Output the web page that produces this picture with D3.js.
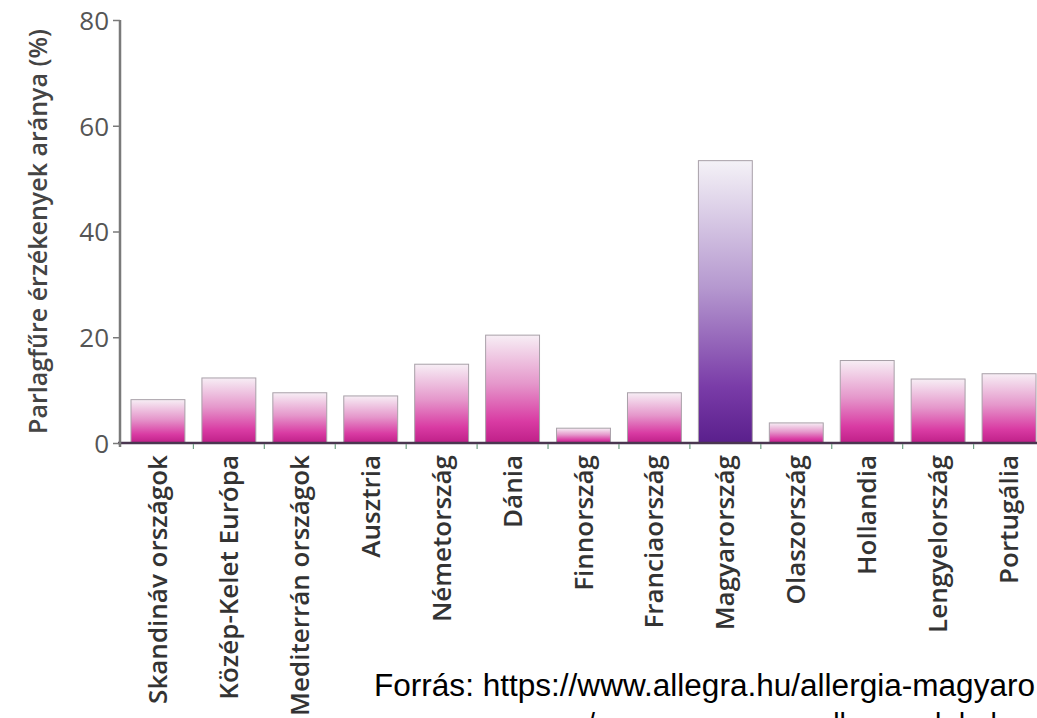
<!DOCTYPE html>
<html>
<head>
<meta charset="utf-8">
<script src="https://cdn.jsdelivr.net/npm/d3@7"></script>
<style>
  body { margin: 0; background: #fff; }
  svg { display: block; }
</style>
</head>
<body>
<svg width="1037" height="718"></svg>
<script>
var countries = ["Skandináv országok", "Közép-Kelet Európa", "Mediterrán országok", "Ausztria",
    "Németország", "Dánia", "Finnország", "Franciaország", "Magyarország", "Olaszország",
    "Hollandia", "Lengyelország", "Portugália"];
var values = [8.2, 12.3, 9.5, 8.9, 14.9, 20.4, 2.8, 9.5, 53.4, 3.8, 15.6, 12.1, 13.1];
var yTicks = [0, 20, 40, 60, 80];
var highlight = "Magyarország";
var yTitle = "Parlagfűre érzékenyek aránya (%)";
var source = ["Forrás: https://www.allegra.hu/allergia-magyaro",
              "magyarorszagon/magyarorszagon-allergenek-helyzete"];

var svg = d3.select("svg");
var data = countries.map(function(c, i) { return {name: c, value: values[i]}; });

var x = d3.scaleBand().domain(countries).range([120, 1047]).paddingInner(0.24).paddingOuter(0.155);
var y = d3.scaleLinear().domain([0, 80]).range([443, 20]);

// gradients
var defs = svg.append("defs");
function grad(id, stops) {
    var g = defs.append("linearGradient").attr("id", id)
        .attr("x1", 0).attr("y1", 0).attr("x2", 0).attr("y2", 1);
    stops.forEach(function(s) {
        g.append("stop").attr("offset", s[0]).attr("stop-color", s[1]);
    });
}
grad("pink", [[0, "#f7eef5"], [0.45, "#e597cb"], [0.8, "#d93ba3"], [1, "#bf1f88"]]);
grad("purple", [[0, "#f4f2f7"], [0.45, "#b598cf"], [0.8, "#7a3ca8"], [1, "#5a1f8c"]]);

// bars
svg.selectAll(".bar")
    .data(data)
    .enter()
    .append("rect")
    .attr("class", "bar")
    .attr("x", function(d) { return x(d.name); })
    .attr("y", function(d) { return y(d.value); })
    .attr("width", x.bandwidth())
    .attr("height", function(d) { return y(0) - y(d.value); })
    .attr("fill", function(d) { return d.name == highlight ? "url(#purple)" : "url(#pink)"; })
    .attr("stroke", "#a8a0a8")
    .attr("stroke-width", 1);

// x axis line and ticks between bars
var xAxis = svg.append("g").attr("transform", "translate(0," + y(0) + ")");
xAxis.append("line")
    .attr("x1", 118).attr("x2", 1037)
    .attr("stroke", "#4a3650").attr("stroke-width", 2.5);
xAxis.selectAll(".xt")
    .data(countries.slice(1))
    .enter()
    .append("line")
    .attr("x1", function(d) { return x(d) - x.step() * x.paddingInner() / 2; })
    .attr("x2", function(d) { return x(d) - x.step() * x.paddingInner() / 2; })
    .attr("y1", 1).attr("y2", 6)
    .attr("stroke", "#6f9f83").attr("stroke-width", 1.2);

xAxis.selectAll(".xl")
    .data(countries)
    .enter()
    .append("text")
    .attr("transform", function(d) { return "translate(" + (x(d) + x.bandwidth() / 2 + 9) + ",12) rotate(-90)"; })
    .attr("text-anchor", "end")
    .attr("font-family", "'Open Sans', sans-serif")
    .attr("font-weight", 600)
    .attr("font-size", "26px")
    .attr("fill", "#333")
    .text(function(d) { return d; });

// y axis
var yAxis = svg.append("g").attr("transform", "translate(120,0)")
    .call(d3.axisLeft(y).tickValues(yTicks).tickSize(7).tickPadding(4));
yAxis.select(".domain").attr("stroke", "#7a7a7a").attr("stroke-width", 2.5)
    .attr("d", "M0," + y(80) + "V" + (y(0) + 4));
yAxis.selectAll(".tick line").attr("stroke", "#7a7a7a").attr("stroke-width", 1.5);
yAxis.selectAll(".tick text")
    .attr("font-family", "'Open Sans', sans-serif")
    .attr("font-size", "26px")
    .attr("fill", "#555")
    .attr("dy", "0.36em");

svg.append("text")
    .attr("transform", "translate(47," + ((y(0) + y(80)) / 2) + ") rotate(-90)")
    .attr("text-anchor", "middle")
    .attr("font-family", "'Open Sans', sans-serif")
    .attr("font-weight", 600)
    .attr("font-size", "25px")
    .attr("fill", "#444")
    .text(yTitle);

// source note
var src = svg.append("g").attr("font-family", "'Liberation Sans', Arial, sans-serif")
    .attr("font-size", "31px").attr("fill", "#000");
src.append("text").attr("x", 374).attr("y", 696).text(source[0])
    .attr("textLength", 661).attr("lengthAdjust", "spacingAndGlyphs");
src.append("text").attr("x", 374).attr("y", 735).text(source[1])
    .attr("textLength", 663 * source[1].length / 47).attr("lengthAdjust", "spacingAndGlyphs");
</script>
</body>
</html>
